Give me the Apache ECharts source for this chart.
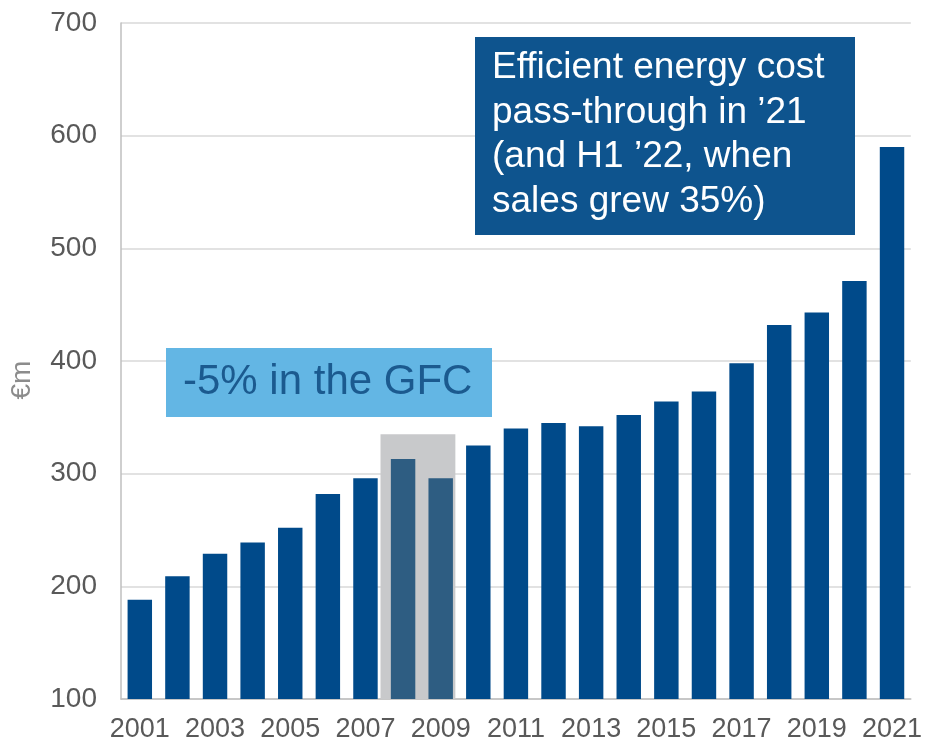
<!DOCTYPE html>
<html><head><meta charset="utf-8">
<script src="https://cdn.jsdelivr.net/npm/echarts@6/dist/echarts.min.js"></script>
<style>html,body{margin:0;padding:0;background:#fff}#c{width:925px;height:745px}</style>
</head><body><div id="c"></div>
<script>
const years = ['2001','2002','2003','2004','2005','2006','2007','2008','2009','2010','2011','2012','2013','2014','2015','2016','2017','2018','2019','2020','2021'];
const sales = [188, 209, 229, 239, 252, 282, 296, 313, 296, 325, 340, 345, 342, 352, 364, 373, 398, 432, 443, 471, 590];
const gfcYears = ['2008','2009'];
const gfcTop = 335;
const yTicks = {min: 100, max: 700, interval: 100};
const gfcLabel = '-5% in the GFC';
const noteLines = ['Efficient energy cost', 'pass-through in \u201921', '(and H1 \u201922, when', 'sales grew 35%)'];

const FONT = '"Liberation Sans", Arial, sans-serif';
const chart = echarts.init(document.getElementById('c'));
const barData = sales.map((v, i) => gfcYears.includes(years[i])
  ? {value: v, itemStyle: {color: '#2E5D82'}} : v);

chart.setOption({
  animation: false,
  grid: {left: 121, right: 12, top: 23, bottom: 46},
  xAxis: {
    type: 'category', data: years,
    axisTick: {show: false},
    axisLine: {lineStyle: {color: '#BFBFBF', width: 1.5}},
    axisLabel: {interval: 1, fontSize: 27, color: '#595959', fontFamily: FONT, margin: 17}
  },
  yAxis: {
    type: 'value', min: yTicks.min, max: yTicks.max, interval: yTicks.interval,
    name: '\u20acm', nameLocation: 'middle', nameGap: 85, nameRotate: 90,
    nameTextStyle: {fontSize: 28, color: '#8C8C8C', fontFamily: FONT, padding: [0, 38, 0, 0]},
    axisLine: {show: true, lineStyle: {color: '#BFBFBF', width: 1.5}},
    axisTick: {show: false},
    splitLine: {lineStyle: {color: '#D9D9D9', width: 1.5}},
    axisLabel: {fontSize: 28, color: '#595959', fontFamily: FONT, margin: 24}
  },
  series: [
    {
      type: 'custom', z: 1, silent: true,
      encode: {x: [0, 1], y: 2},
      data: [[years.indexOf(gfcYears[0]), years.indexOf(gfcYears[1]), gfcTop]],
      renderItem: function (params, api) {
        const s = api.coord([api.value(0), yTicks.min]);
        const e = api.coord([api.value(1), api.value(2)]);
        const bw = api.size([1, 0])[0];
        const x0 = s[0] - bw * 0.6, x1 = e[0] + bw * 0.39;
        return {type: 'rect', shape: {x: x0, y: e[1], width: x1 - x0, height: s[1] - e[1]},
          style: {fill: '#C8C9CB'}};
      }
    },
    {
      type: 'bar', z: 2, data: barData, barWidth: '65%',
      itemStyle: {color: '#004A8A'}
    }
  ],
  graphic: [
    {type: 'rect', z: 10, shape: {x: 166, y: 348, width: 326, height: 69}, style: {fill: '#63B6E4'}},
    {type: 'text', z: 11, x: 183, y: 382, style: {text: gfcLabel, fill: '#1B5A8F', font: '42px ' + FONT, textVerticalAlign: 'middle'}},
    {type: 'rect', z: 10, shape: {x: 475, y: 37, width: 380, height: 198}, style: {fill: '#0E548E'}},
    {type: 'text', z: 11, x: 492, y: 46, style: {text: noteLines.join('\n'), fill: '#FFFFFF', font: '37px ' + FONT, lineHeight: 44.5}}
  ]
});
</script></body></html>
